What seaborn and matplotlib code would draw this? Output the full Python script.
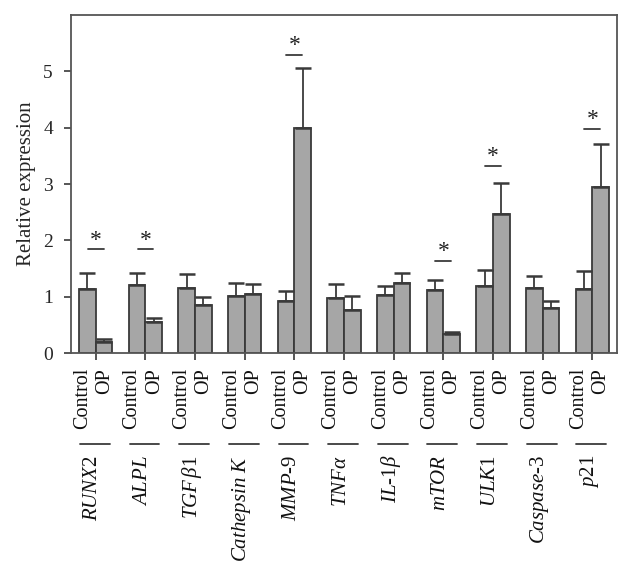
import numpy as np
import pandas as pd
import matplotlib
matplotlib.use("Agg")
import matplotlib.pyplot as plt
import matplotlib.transforms as mtransforms
import seaborn as sns

# data
genes = ["RUNX2", "ALPL", "TGFb1", "CathepsinK", "MMP-9", "TNFa",
         "IL-1b", "mTOR", "ULK1", "Caspase-3", "p21"]
gene_labels = [r"$\mathit{RUNX2}$", r"$\mathit{ALPL}$", r"$\mathit{TGF\,\beta}$1",
               r"$\mathit{Cathepsin\ K}$", r"$\mathit{MMP}$-9", r"$\mathit{TNF\alpha}$",
               r"$\mathit{IL}$-1$\mathit{\beta}$", r"$\mathit{mTOR}$", r"$\mathit{ULK}$1",
               r"$\mathit{Caspase}$-3", r"$\mathit{p}$21"]
control = [1.14, 1.21, 1.16, 1.02, 0.93, 0.98, 1.03, 1.12, 1.19, 1.16, 1.13]
control_err = [0.29, 0.21, 0.24, 0.23, 0.17, 0.24, 0.16, 0.17, 0.29, 0.20, 0.32]
op = [0.20, 0.55, 0.86, 1.04, 3.99, 0.77, 1.25, 0.34, 2.47, 0.80, 2.95]
op_err = [0.05, 0.07, 0.13, 0.18, 1.08, 0.24, 0.17, 0.04, 0.55, 0.13, 0.77]
sig_idx = [0, 1, 4, 7, 8, 10]
sig_height = [1.84, 1.84, 5.30, 1.63, 3.32, 3.98]

sns.set_style("ticks")
plt.rcParams["font.family"] = ["Liberation Serif", "DejaVu Serif"]
plt.rcParams["mathtext.fontset"] = "custom"
plt.rcParams["mathtext.rm"] = "Liberation Serif"
plt.rcParams["mathtext.it"] = "Liberation Serif:italic"

df = pd.DataFrame({
    "gene": genes * 2,
    "group": ["Control"] * len(genes) + ["OP"] * len(genes),
    "value": control + op,
})

fig = plt.figure(figsize=(6.31, 5.84), dpi=100)
ax = fig.add_axes([0.1125, 0.3955, 0.8655, 0.5785])

edge = "#3a3a3a"
sns.barplot(data=df, x="gene", y="value", hue="group", order=genes,
            palette=["#a6a6a6", "#a6a6a6"], edgecolor=edge, linewidth=1.3,
            width=0.67, errorbar=None, legend=False, ax=ax)

# upward error bars
for cont, errs in zip(ax.containers, [control_err, op_err]):
    xs = [b.get_x() + b.get_width() / 2 for b in cont]
    hs = [b.get_height() for b in cont]
    ax.errorbar(xs, hs, yerr=[np.zeros(len(errs)), errs], fmt="none",
                ecolor=edge, elinewidth=1.3, capsize=5.5, capthick=1.8, zorder=1)

# significance marks
for i, h in zip(sig_idx, sig_height):
    ax.plot([i - 0.16, i + 0.16], [h, h], color=edge, lw=1.3)
    ax.text(i, h - 0.02, "*", ha="center", va="bottom", fontsize=17, color="#222222")

ax.set_xlim(-0.5, len(genes) - 0.5)
ax.set_ylim(0, 6)
ax.set_yticks([0, 1, 2, 3, 4, 5])
ax.set_xticks(range(len(genes)))
ax.set_xticklabels([])
ax.set_xlabel("")
ax.set_ylabel("Relative expression", fontsize=15, labelpad=5)
ax.tick_params(axis="y", labelsize=14, length=5, width=1.2, color=edge, pad=8)
ax.tick_params(axis="x", length=5, width=1.2, color=edge)
for s in ax.spines.values():
    s.set_color("#555555")
    s.set_linewidth(1.3)

# group labels under the axis
trans = mtransforms.blended_transform_factory(ax.transData, ax.transAxes)
for i, lab in enumerate(gene_labels):
    ax.text(i - 0.27, -0.044, "Control", rotation=90, ha="center", va="top",
            fontsize=14.5, transform=trans, color="#111111")
    ax.text(i + 0.175, -0.044, "OP", rotation=90, ha="center", va="top",
            fontsize=14.5, transform=trans, color="#111111")
    ax.plot([i - 0.32, i + 0.28], [-0.269, -0.269], color=edge, lw=1.3,
            transform=trans, clip_on=False)
    ax.text(i - 0.06, -0.302, lab, rotation=90, ha="center", va="top",
            fontsize=15, transform=trans, color="#111111")

fig.savefig("out.png", dpi=100)
